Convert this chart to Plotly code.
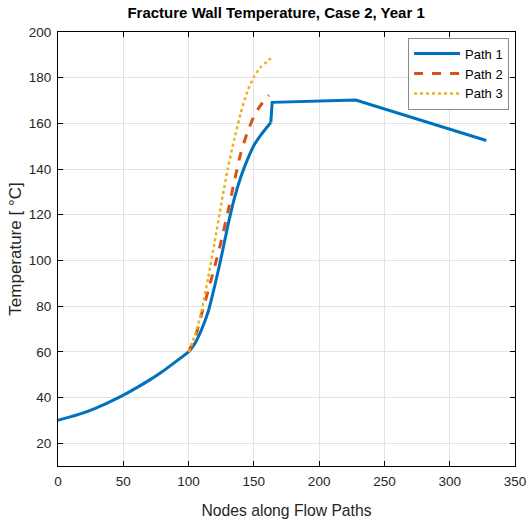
import plotly.graph_objects as go

# Path 1
p1_nodes = [0, 10, 20, 30, 40, 50, 60, 70, 80, 90, 100, 105, 110, 115, 120, 125, 130, 135, 140, 145, 150, 155, 160, 163, 164, 228, 328]
p1_temp = [30, 31.6, 33.4, 35.6, 38.2, 41, 44.2, 47.6, 51.4, 55.6, 60, 63.8, 69.8, 77.5, 88.8, 101.3, 115, 127, 136.5, 144, 150.3, 154.6, 158.3, 160.4, 169.2, 170.2, 152.5]

# Path 2
p2_nodes = [100, 105, 110, 115, 120, 125, 130, 135, 140, 145, 150, 155, 160, 161.5]
p2_temp = [60, 66.3, 76.5, 86.8, 97.3, 108.5, 121, 134.5, 147, 156, 163, 167.8, 171.3, 172.3]

# Path 3
p3_nodes = [100, 105, 110, 115, 120, 125, 130, 135, 140, 145, 150, 155, 160, 163]
p3_temp = [60, 67.5, 78, 92.5, 108.2, 124.5, 140, 153, 164.5, 174, 180.3, 184.5, 187, 188.5]

x_ticks = [0, 50, 100, 150, 200, 250, 300, 350]
y_ticks = [20, 40, 60, 80, 100, 120, 140, 160, 180, 200]

FONT = "Liberation Sans, Arial, sans-serif"
BLUE, ORANGE, YELLOW = "#0072BD", "#D95319", "#EDB120"

# split Path 1 at the jump: smooth curve part, then straight segments
k = p1_nodes.index(163)

fig = go.Figure()
fig.add_trace(go.Scatter(x=p1_nodes[:k + 1], y=p1_temp[:k + 1], mode="lines", name="Path 1",
                         legendgroup="p1", line=dict(color=BLUE, width=3, shape="spline", smoothing=0.6)))
fig.add_trace(go.Scatter(x=p1_nodes[k:], y=p1_temp[k:], mode="lines", name="Path 1",
                         legendgroup="p1", showlegend=False, line=dict(color=BLUE, width=3)))
fig.add_trace(go.Scatter(x=p2_nodes, y=p2_temp, mode="lines", name="Path 2",
                         line=dict(color=ORANGE, width=3, dash="dash", shape="spline", smoothing=0.6)))
fig.add_trace(go.Scatter(x=p3_nodes, y=p3_temp, mode="lines", name="Path 3",
                         line=dict(color=YELLOW, width=2.5, dash="dot", shape="spline", smoothing=0.6)))

axis_common = dict(showline=True, linecolor="black", linewidth=1, mirror="allticks",
                   ticks="inside", ticklen=5, tickcolor="black", automargin=False,
                   showgrid=True, gridcolor="#e3e3e3", gridwidth=1, zeroline=False,
                   tickfont=dict(family=FONT, size=13.5, color="#262626"))

fig.update_layout(
    width=529, height=521,
    margin=dict(l=58, r=14, t=31.5, b=54.5),
    paper_bgcolor="white", plot_bgcolor="white",
    title=dict(text="<b>Fracture Wall Temperature, Case 2, Year 1</b>",
               x=0.522, xanchor="center", y=0.975, yanchor="middle",
               font=dict(family=FONT, size=15, color="black")),
    xaxis=dict(range=[0, 350], tickvals=x_ticks, ticklabelstandoff=3,
               title=dict(text="Nodes along Flow Paths", standoff=16,
                          font=dict(family=FONT, size=15.7, color="#262626")),
               **axis_common),
    yaxis=dict(range=[10, 200], tickvals=y_ticks, ticklabelstandoff=3,
               title=dict(text="Temperature [ °C]", standoff=2,
                          font=dict(family=FONT, size=17, color="#262626")),
               **axis_common),
    legend=dict(x=0.987, y=0.987, xanchor="right", yanchor="top",
                bgcolor="white", bordercolor="#8a8a8a", borderwidth=1,
                font=dict(family=FONT, size=13, color="black"),
                tracegroupgap=0, itemwidth=46),
    showlegend=True,
)

fig.write_html("out.html")
